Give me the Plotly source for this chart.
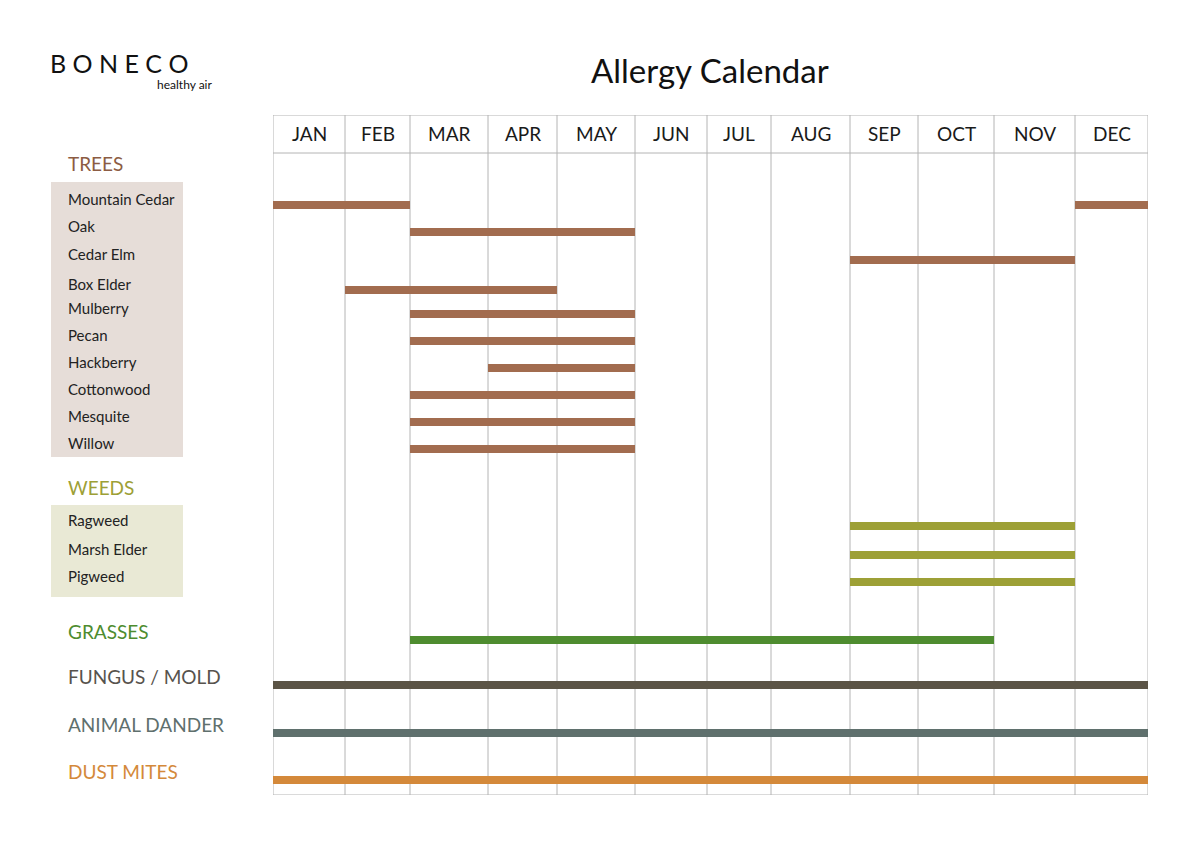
import plotly.graph_objects as go

# ---------------- data ----------------
months = ["JAN", "FEB", "MAR", "APR", "MAY", "JUN", "JUL", "AUG", "SEP", "OCT", "NOV", "DEC"]
# column boundaries of the calendar (uneven widths as in the original)
month_edges = [0, 72, 137, 215, 284, 362, 434, 498, 577, 645, 721, 802, 875]

tree_names = ["Mountain Cedar", "Oak", "Cedar Elm", "Box Elder", "Mulberry", "Pecan",
              "Hackberry", "Cottonwood", "Mesquite", "Willow"]
tree_periods = [[("JAN", "FEB"), ("DEC", "DEC")], [("MAR", "MAY")], [("SEP", "NOV")],
                [("FEB", "APR")], [("MAR", "MAY")], [("MAR", "MAY")], [("APR", "MAY")],
                [("MAR", "MAY")], [("MAR", "MAY")], [("MAR", "MAY")]]
weed_names = ["Ragweed", "Marsh Elder", "Pigweed"]
weed_periods = [[("SEP", "NOV")], [("SEP", "NOV")], [("SEP", "NOV")]]
other_names = ["GRASSES", "FUNGUS / MOLD", "ANIMAL DANDER", "DUST MITES"]
other_periods = [[("MAR", "OCT")], [("JAN", "DEC")], [("JAN", "DEC")], [("JAN", "DEC")]]

# row slots (vertical layout, top = 0)
tree_rows = [90, 117, 145, 175, 199, 226, 253, 280, 307, 334]
weed_rows = [411, 440, 467]
other_rows = [525, 570, 618, 665]

tree_color = "#a26c4f"
weed_color = "#9da036"
other_colors = ["#4e8c2f", "#5b5446", "#5f706d", "#d4893a"]
other_label_colors = ["#4e8c2f", "#57534d", "#5f706d", "#d4893a"]

# ---------------- figure ----------------
OFF = 8  # page offset of the plot in the browser
W, H = 1200, 846
plot_w, plot_h = 875, 680
L, T = 273 - OFF, 115 - OFF
R = W - L - plot_w
B = H - T - plot_h
header_h = 38

fig = go.Figure()


def add_bars(periods, rows, color, width=8):
    xs, ys = [], []
    for per, y in zip(periods, rows):
        for a, b in per:
            xs += [month_edges[months.index(a)], month_edges[months.index(b) + 1], None]
            ys += [y, y, None]
    fig.add_trace(go.Scatter(x=xs, y=ys, mode="lines", line=dict(color=color, width=width),
                             hoverinfo="skip", showlegend=False))


add_bars(tree_periods, tree_rows, tree_color)
add_bars(weed_periods, weed_rows, weed_color)
for p, r, c in zip(other_periods, other_rows, other_colors):
    add_bars([p], [r], c)

grid = "#b4b4b4"
shapes = []
for e in month_edges:
    shapes.append(dict(type="line", xref="x", yref="y", x0=e, x1=e, y0=0, y1=plot_h,
                       line=dict(color=grid, width=1), layer="below"))
for yy in [0, header_h, plot_h]:
    shapes.append(dict(type="line", xref="x", yref="y", x0=0, x1=month_edges[-1], y0=yy, y1=yy,
                       line=dict(color=grid, width=1), layer="below"))


def px_x(px):
    return (px - OFF - L) / plot_w


def px_y(py):
    return (T + plot_h - (py - OFF)) / plot_h


shapes.append(dict(type="rect", xref="paper", yref="y", x0=px_x(51), x1=px_x(183),
                   y0=67, y1=342, fillcolor="#e6ddd8", line=dict(width=0), layer="below"))
shapes.append(dict(type="rect", xref="paper", yref="y", x0=px_x(51), x1=px_x(183),
                   y0=390, y1=482, fillcolor="#e9e9d5", line=dict(width=0), layer="below"))

annotations = []
for i, m in enumerate(months):
    annotations.append(dict(x=(month_edges[i] + month_edges[i + 1]) / 2, y=header_h / 2 - 1,
                            xref="x", yref="y", text=m, showarrow=False, yanchor="middle",
                            font=dict(family="Lato", size=19, color="#1a1a1a")))

label_x = px_x(66)
hand_font = dict(family="Liberation Sans Narrow, Lato", size=15, color="#222222")
for name, y in zip(tree_names, tree_rows):
    annotations.append(dict(x=label_x, y=y - 6, xref="paper", yref="y", text=name, showarrow=False,
                            xanchor="left", yanchor="middle", font=hand_font))
for name, y in zip(weed_names, weed_rows):
    annotations.append(dict(x=label_x, y=y - 6, xref="paper", yref="y", text=name, showarrow=False,
                            xanchor="left", yanchor="middle", font=hand_font))

annotations.append(dict(x=label_x, y=48, xref="paper", yref="y", text="TREES", showarrow=False,
                        xanchor="left", yanchor="middle",
                        font=dict(family="Lato", size=19, color="#8c5c43")))
annotations.append(dict(x=label_x, y=372, xref="paper", yref="y", text="WEEDS", showarrow=False,
                        xanchor="left", yanchor="middle",
                        font=dict(family="Lato", size=19, color="#9da036")))
for name, y, c in zip(other_names, other_rows, other_label_colors):
    annotations.append(dict(x=label_x, y=y - 9, xref="paper", yref="y", text=name, showarrow=False,
                            xanchor="left", yanchor="middle",
                            font=dict(family="Lato", size=19, color=c)))

annotations.append(dict(x=px_x(710), y=px_y(70), xref="paper", yref="paper",
                        text="Allergy Calendar", showarrow=False, yanchor="middle",
                        font=dict(family="Liberation Sans Narrow, Lato", size=33, color="#111111")))
annotations.append(dict(x=px_x(48), y=px_y(63), xref="paper", yref="paper",
                        text="B O N E C O", showarrow=False, xanchor="left", yanchor="middle",
                        font=dict(family="Lato", size=25, color="#111111")))
annotations.append(dict(x=px_x(214), y=px_y(85), xref="paper", yref="paper",
                        text="healthy air", showarrow=False, xanchor="right", yanchor="middle",
                        font=dict(family="Lato", size=12, color="#111111")))

fig.update_layout(
    width=W, height=H,
    margin=dict(l=L, r=R, t=T, b=B),
    plot_bgcolor="white", paper_bgcolor="white",
    xaxis=dict(range=[0, month_edges[-1]], showgrid=False, zeroline=False, showticklabels=False,
               fixedrange=True),
    yaxis=dict(range=[plot_h, 0], showgrid=False, zeroline=False, showticklabels=False,
               fixedrange=True),
    shapes=shapes, annotations=annotations,
)

fig.write_html("out.html")
